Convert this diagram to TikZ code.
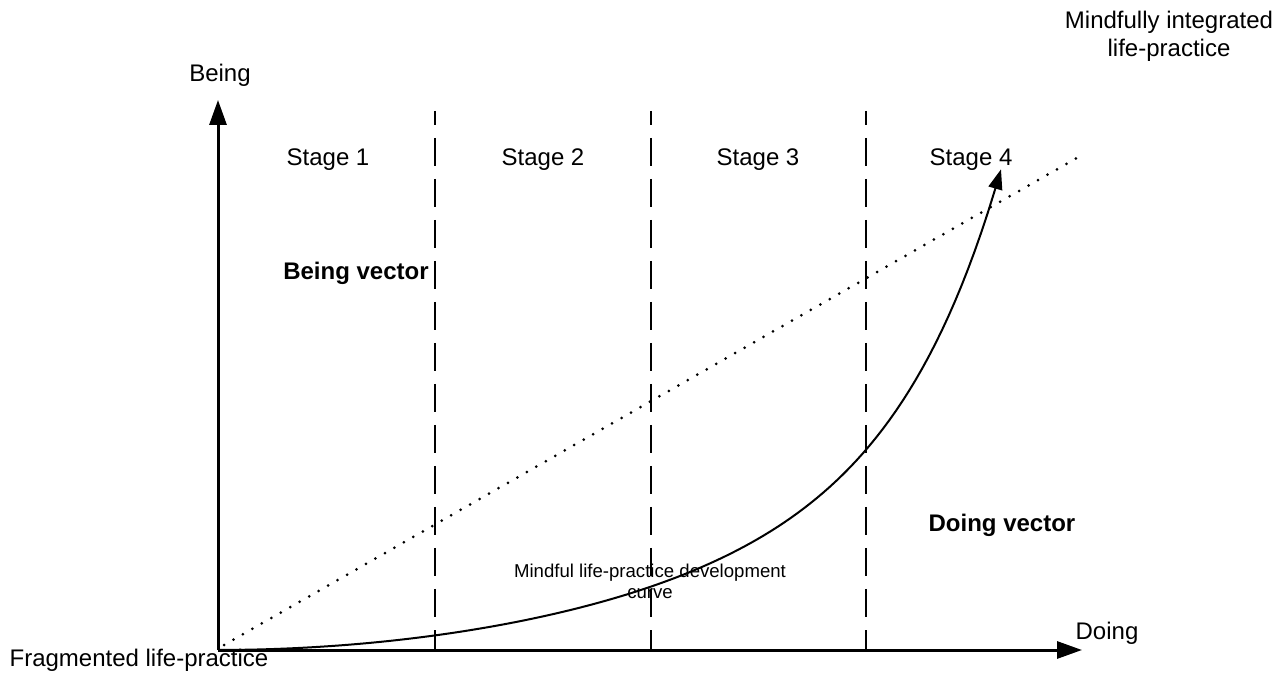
\documentclass[tikz,border=0pt]{standalone}
\usepackage{fontspec}
\setmainfont{Liberation Sans}
\usetikzlibrary{arrows.meta}
\begin{document}
\begin{tikzpicture}[x=0.5pt,y=-0.5pt,
  lbl/.style={font=\fontsize{12}{14}\selectfont, inner sep=0pt},
  boldlbl/.style={font=\fontsize{12}{14}\selectfont\bfseries, inner sep=0pt},
  smalllbl/.style={font=\fontsize{9.3}{10.5}\selectfont, inner sep=0pt, align=center},
  axisline/.style={line width=1.5pt, -{Triangle[length=12.5pt,width=8.5pt]}},
  stagediv/.style={line width=1.4pt, dash pattern=on 14pt off 6.5pt, dash phase=7pt},
  devcurve/.style={line width=1pt, -{Triangle[length=10pt,width=7pt]}},
  diag/.style={line width=1.5pt, line cap=round, dash pattern=on 0pt off 5.45pt}]
\useasboundingbox (0,0) rectangle (1286,673);
% key points
\coordinate (O) at (218,650);
\coordinate (ytip) at (218,100);
\coordinate (xtip) at (1082,650);
\coordinate (dstart) at (224,645);
\coordinate (dend) at (1082,155);
\coordinate (d1t) at (435,111); \coordinate (d1b) at (435,650);
\coordinate (d2t) at (651,111); \coordinate (d2b) at (651,650);
\coordinate (d3t) at (866,111); \coordinate (d3b) at (866,650);
% axes
\draw[axisline] (O) -- (ytip);
\draw[axisline] (O) -- (xtip);
% stage dividers
\draw[stagediv] (d1t) -- (d1b);
\draw[stagediv] (d2t) -- (d2b);
\draw[stagediv] (d3t) -- (d3b);
% dotted diagonal
\draw[diag] (dstart) -- (dend);
% development curve
\draw[devcurve] plot[domain=0:783, samples=120, variable=\u]
  ({218+\u},{650-(2.9*(\u/100)*(\u/100)+0.121*(exp(0.01*\u)-1))});
% labels
\node[lbl] (being) at (220,75) {Being};
\node[lbl] (doing) at (1107,633) {Doing};
\node[lbl] (frag) at (139,660) {Fragmented life-practice};
\node[lbl, align=center] (mind) at (1169,36) {Mindfully integrated\\life-practice};
\node[lbl] (s1) at (328,160) {Stage 1};
\node[lbl] (s2) at (543,160) {Stage 2};
\node[lbl] (s3) at (758,160) {Stage 3};
\node[lbl] (s4) at (971,160) {Stage 4};
\node[boldlbl] (bv) at (356,273) {Being vector};
\node[boldlbl] (dv) at (1002,525) {Doing vector};
\node[smalllbl] (cl) at (650,581) {Mindful life-practice development\\curve};
\end{tikzpicture}
\end{document}
